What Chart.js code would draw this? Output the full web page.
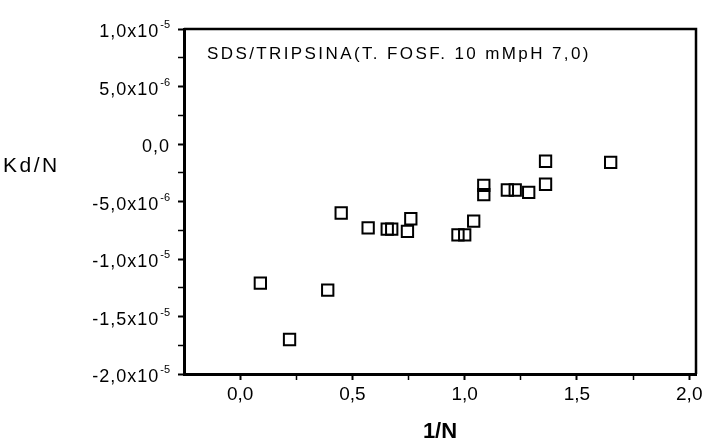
<!DOCTYPE html>
<html>
<head>
<meta charset="utf-8">
<script src="https://cdn.jsdelivr.net/npm/chart.js@4.4.1/dist/chart.umd.min.js"></script>
<style>
  html, body { margin: 0; padding: 0; background: #fff; }
  #wrap { width: 712px; height: 445px; }
</style>
</head>
<body>
<div id="wrap"><canvas id="kdChart" width="712" height="445"></canvas></div>
<script>
// data (1/N vs Kd/N)
const invN = [0.09, 0.22, 0.39, 0.45, 0.57, 0.655, 0.675, 0.745, 0.76, 0.97,
              1.0, 1.04, 1.085, 1.085, 1.19, 1.225, 1.285, 1.36, 1.36, 1.65];
const kdN = [-12.1e-6, -17.0e-6, -12.7e-6, -6.0e-6, -7.3e-6, -7.4e-6, -7.4e-6, -7.6e-6, -6.5e-6, -7.9e-6,
             -7.9e-6, -6.7e-6, -3.6e-6, -4.4e-6, -4.0e-6, -4.0e-6, -4.2e-6, -3.5e-6, -1.5e-6, -1.6e-6];

// ticks
const xMajor = [0, 0.5, 1.0, 1.5, 2.0];
const xMajorLabels = ['0,0', '0,5', '1,0', '1,5', '2,0'];
const xMinor = [0.25, 0.75, 1.25, 1.75];
const yMajor = [-2e-5, -1.5e-5, -1e-5, -5e-6, 0, 5e-6, 1e-5];
const yMantissa = ['-2,0x10', '-1,5x10', '-1,0x10', '-5,0x10', '0,0', '5,0x10', '1,0x10'];
const yExponent = ['-5', '-5', '-5', '-6', '', '-6', '-5'];
const yMinor = [-1.75e-5, -1.25e-5, -7.5e-6, -2.5e-6, 2.5e-6, 7.5e-6];

const seriesLabel = 'SDS/TRIPSINA(T. FOSF. 10 mMpH 7,0)';

const FONT = '"Liberation Sans", Arial, sans-serif';

function isMajorX(v) { return xMajor.some(m => Math.abs(m - v) < 1e-9); }
function isMajorY(v) { return yMajor.some(m => Math.abs(m - v) < 1e-12); }

// frame, y tick labels, axis title, series text
const extras = {
    id: 'extras',
    afterDraw(chart) {
        const ctx = chart.ctx;
        const a = chart.chartArea;
        const ys = chart.scales.y;
        ctx.save();
        ctx.strokeStyle = '#000';
        ctx.lineWidth = 2.5;
        ctx.beginPath();
        ctx.moveTo(a.left, a.top);
        ctx.lineTo(a.right, a.top);
        ctx.lineTo(a.right, a.bottom);
        ctx.stroke();

        ctx.fillStyle = '#000';
        ctx.textAlign = 'right';
        ctx.textBaseline = 'alphabetic';
        yMajor.forEach((v, i) => {
            const py = ys.getPixelForValue(v);
            let right = 170;
            if (yExponent[i]) {
                ctx.font = '11px ' + FONT;
                ctx.letterSpacing = '0px';
                ctx.fillText(yExponent[i], right, py - 1);
                right -= ctx.measureText(yExponent[i]).width + 1;
            }
            ctx.font = '18px ' + FONT;
            ctx.letterSpacing = '1px';
            ctx.fillText(yMantissa[i], right, py + 8);
        });

        ctx.textAlign = 'left';
        ctx.font = '21px ' + FONT;
        ctx.letterSpacing = '2.5px';
        ctx.fillText('Kd/N', 3, 172);

        ctx.font = '17px ' + FONT;
        ctx.letterSpacing = '2.4px';
        ctx.fillText(seriesLabel, 207, 59);
        ctx.restore();
    }
};

const ctx = document.getElementById('kdChart').getContext('2d');
new Chart(ctx, {
    type: 'scatter',
    data: {
        datasets: [{
            label: seriesLabel,
            data: invN.map((x, i) => ({ x: x, y: kdN[i] })),
            pointStyle: 'rect',
            pointRadius: 8,
            pointHoverRadius: 8,
            borderColor: '#000',
            backgroundColor: 'rgba(255,255,255,0)',
            pointBorderWidth: 2
        }]
    },
    options: {
        responsive: false,
        animation: false,
        layout: { padding: { left: 0, top: 29, right: 16, bottom: 0 } },
        plugins: { legend: { display: false }, tooltip: { enabled: false } },
        scales: {
            x: {
                type: 'linear',
                min: -0.25,
                max: 2.03,
                afterFit: s => { s.height = 71; },
                afterBuildTicks: s => {
                    s.ticks = xMajor.concat(xMinor).sort((a, b) => a - b).map(v => ({ value: v }));
                },
                border: { color: '#000', width: 3 },
                grid: {
                    drawOnChartArea: false,
                    drawTicks: true,
                    tickLength: 6,
                    tickColor: '#000',
                    tickWidth: c => (c.tick && isMajorX(c.tick.value)) ? 2 : 1.5
                },
                ticks: {
                    autoSkip: false,
                    maxRotation: 0,
                    padding: 3,
                    color: '#000',
                    font: { family: FONT, size: 19 },
                    callback: function(value) {
                        const i = xMajor.findIndex(m => Math.abs(m - value) < 1e-9);
                        return i >= 0 ? xMajorLabels[i] : '';
                    }
                },
                title: {
                    display: true,
                    text: '1/N',
                    color: '#000',
                    font: { family: FONT, size: 22, weight: 'bold' },
                    padding: { top: 8, bottom: 0 }
                }
            },
            y: {
                type: 'linear',
                min: -2e-5,
                max: 1e-5,
                afterFit: s => { s.width = 184; },
                afterBuildTicks: s => {
                    s.ticks = yMajor.concat(yMinor).sort((a, b) => a - b).map(v => ({ value: v }));
                },
                border: { color: '#000', width: 3 },
                grid: {
                    drawOnChartArea: false,
                    drawTicks: true,
                    tickLength: 6,
                    tickColor: '#000',
                    tickWidth: c => (c.tick && isMajorY(c.tick.value)) ? 2 : 1.5
                },
                ticks: { display: false }
            }
        }
    },
    plugins: [extras]
});
</script>
</body>
</html>
